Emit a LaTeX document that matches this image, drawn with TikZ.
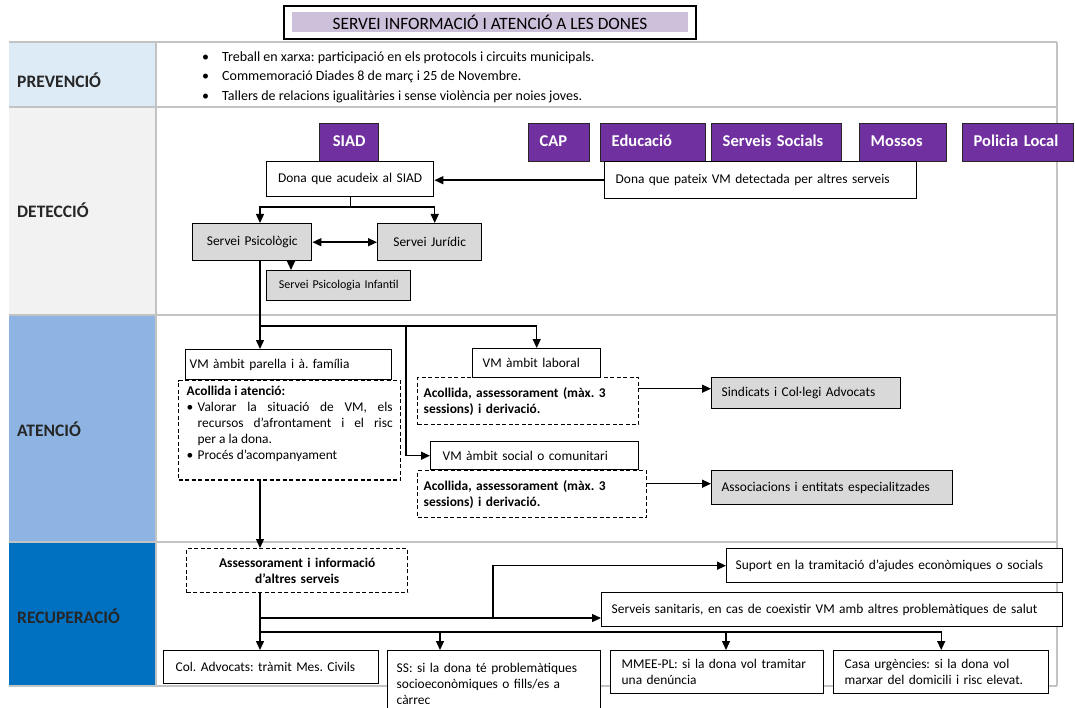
\documentclass[tikz,border=0pt]{standalone}
\usepackage{fontspec}
\setmainfont{Carlito}
\usetikzlibrary{arrows.meta}
\definecolor{prevblue}{RGB}{221,235,247}
\definecolor{detgray}{RGB}{242,242,242}
\definecolor{atenblue}{RGB}{141,180,226}
\definecolor{recblue}{RGB}{0,112,192}
\definecolor{agencyviolet}{RGB}{112,48,160}
\definecolor{boxgray}{RGB}{217,217,217}
\definecolor{titlelilac}{RGB}{204,192,218}
\definecolor{rulegray}{RGB}{195,195,195}
\newcommand{\bodysize}{\fontsize{13.4}{16}\selectfont}
\newcommand{\prevsize}{\fontsize{14}{17}\selectfont}
\newcommand{\smallsize}{\fontsize{12}{14}\selectfont}
\newcommand{\labelsize}{\fontsize{17.5}{20}\selectfont}
\newcommand{\agencysize}{\fontsize{16.5}{19}\selectfont}
\newcommand{\titlesize}{\fontsize{17.3}{20}\selectfont}
\frenchspacing
\hyphenpenalty=10000
\exhyphenpenalty=10000

\begin{document}
\begin{tikzpicture}[x=1pt,y=-1pt,
    rowrule/.style={draw=rulegray,line width=1.3pt},
    rowlabel/.style={anchor=base west,inner sep=0pt,font=\labelsize\bfseries,text=black!85},
    prevline/.style={anchor=west,inner sep=0pt,font=\prevsize},
    agency/.style={anchor=north west,draw=black!85,line width=1.4pt,fill=agencyviolet,text=white,
        font=\agencysize\bfseries,inner xsep=11pt,inner ysep=0pt,minimum height=38pt,align=left,
        text height=12pt,text depth=3.5pt},
    whitebox/.style={anchor=north west,draw=black,line width=1.4pt,fill=white,font=\bodysize,
        inner ysep=0pt,align=left},
    greybox/.style={whitebox,fill=boxgray},
    dashbox/.style={anchor=north west,draw=black,line width=1.4pt,dash pattern=on 4pt off 2.5pt,
        font=\bodysize\bfseries,inner ysep=0pt},
    link/.style={line width=1.4pt,-{Triangle[length=9pt,width=8pt]}},
    twolink/.style={line width=1.4pt,{Triangle[length=9pt,width=8pt]}-{Triangle[length=9pt,width=8pt]}},
    wire/.style={line width=1.4pt}]
\clip (0,0) rectangle (1075,708);

% table of the four phases
\fill[prevblue] (9,42) rectangle (156,107);
\fill[detgray] (9,107) rectangle (156,315);
\fill[atenblue] (9,315) rectangle (156,542);
\fill[recblue] (9,542) rectangle (156,686);
\draw[rowrule] (9,42) -- (1057,42);
\draw[rowrule] (9,107) -- (1057,107);
\draw[rowrule] (9,315) -- (1057,315);
\draw[rowrule] (9,542) -- (1057,542);
\draw[rowrule] (9,686) -- (1057,686);
\draw[rowrule] (156,42) -- (156,686);
\draw[rowrule] (1057,42) -- (1057,686);

\node[rowlabel] (lprev) at (17,88) {PREVENCIÓ};
\node[rowlabel] (ldet) at (17,218) {DETECCIÓ};
\node[rowlabel] (laten) at (17,436) {ATENCIÓ};
\node[rowlabel] (lrec) at (17,623) {RECUPERACIÓ};

% title
\node[draw=black,line width=1.6pt,minimum width=412pt,minimum height=33pt,inner sep=0pt] (titleframe) at (490,22.5) {};
\node[fill=titlelilac,minimum width=396pt,minimum height=20pt,inner sep=0pt,font=\titlesize] (title) at (titleframe.center) {SERVEI INFORMACIÓ I ATENCIÓ A LES DONES};

% prevencio
\node[prevline] (prev1) at (202,58) {\makebox[20pt][l]{\textbullet}Treball en xarxa: participació en els protocols i circuits municipals.};
\node[prevline] (prev2) at (202,77) {\makebox[20pt][l]{\textbullet}Commemoració Diades 8 de març i 25 de Novembre.};
\node[prevline] (prev3) at (202,97) {\makebox[20pt][l]{\textbullet}Tallers de relacions igualitàries i sense violència per noies joves.};

% deteccio
\node[agency,text width=37pt,align=center] (siad) at (319,123) {SIAD};
\node[agency,text width=39pt] (cap) at (528,123) {CAP};
\node[agency,text width=83pt] (educacio) at (600,123) {Educació};
\node[agency,text width=108pt] (socials) at (711,123) {Serveis Socials};
\node[agency,text width=65pt] (mossos) at (859,123) {Mossos};
\node[agency,text width=89pt] (policia) at (962,123) {Policia Local};
\node[whitebox,text width=155pt,inner xsep=6pt,minimum height=35pt,align=center] (acudeix) at (266,161) {Dona que acudeix al SIAD};
\node[whitebox,text width=290pt,inner xsep=11pt,minimum height=37pt] (pateix) at (604,161) {Dona que pateix VM detectada per altres serveis};
\node[greybox,text width=107pt,inner xsep=6pt,minimum height=37pt,align=center] (psic) at (192,223) {Servei Psicològic};
\node[greybox,text width=92pt,inner xsep=6pt,minimum height=37pt,align=center] (juridic) at (377,223) {Servei Jurídic};
\node[greybox,text width=134pt,inner xsep=5pt,minimum height=30pt,align=center,font=\smallsize] (infantil) at (266,270) {Servei Psicologia Infantil};

% atencio
\node[whitebox,text width=198pt,inner xsep=4pt,minimum height=30pt] (parella) at (185,349) {VM àmbit parella i à. família};
\node[dashbox,font=\bodysize,text width=206pt,inner xsep=8pt,inner ysep=5pt,align=justify] (parelladash) at (178,380) {\parindent=0pt
    {\bfseries Acollida i atenció:}\par
    \hangindent=11pt\hangafter=1\makebox[11pt][l]{\textbullet}Valorar la situació de VM, els\linebreak recursos d’afrontament i el risc\linebreak per a la dona.\par
    \makebox[11pt][l]{\textbullet}Procés d’acompanyament\par\rule{0pt}{10pt}};
\node[whitebox,text width=108pt,inner xsep=10pt,minimum height=29pt] (laboral) at (472,348) {VM àmbit laboral};
\node[dashbox,text width=209pt,inner xsep=6pt,minimum height=47pt,align=left] (laboraldash) at (417,377) {Acollida, assessorament (màx. 3\\sessions) i derivació.};
\node[whitebox,text width=184pt,inner xsep=12pt,minimum height=28pt] (social) at (430,441) {VM àmbit social o comunitari};
\node[dashbox,text width=217pt,inner xsep=6pt,minimum height=47pt,align=left] (socialdash) at (417,470) {Acollida, assessorament (màx. 3\\sessions) i derivació.};
\node[greybox,text width=169pt,inner xsep=10pt,minimum height=31pt] (sindicats) at (711,377) {Sindicats i Col·legi Advocats};
\node[greybox,text width=221pt,inner xsep=10pt,minimum height=34pt] (associacions) at (711,470) {Associacions i entitats especialitzades};

% recuperacio
\node[dashbox,text width=209pt,inner xsep=6pt,minimum height=44pt,align=center] (assess) at (186,548) {Assessorament i informació\\d’altres serveis};
\node[whitebox,text width=318pt,inner xsep=9pt,minimum height=34pt] (suport) at (726,548) {Suport en la tramitació d’ajudes econòmiques o socials};
\node[whitebox,text width=441pt,inner xsep=10pt,minimum height=34pt] (sanitaris) at (601,592) {Serveis sanitaris, en cas de coexistir VM amb altres problemàtiques de salut};
\node[whitebox,text width=191pt,inner xsep=12pt,minimum height=33pt] (coladv) at (163,650) {Col. Advocats: tràmit Mes. Civils};
\node[whitebox,text width=195pt,inner xsep=9pt,minimum height=66pt] (ss) at (387,650) {SS: si la dona té problemàtiques\\socioeconòmiques o fills/es a\\càrrec};
\node[whitebox,text width=191pt,inner xsep=11pt,minimum height=43pt] (mmee) at (610,650) {MMEE-PL: si la dona vol tramitar\\una denúncia};
\node[whitebox,text width=193pt,inner xsep=11pt,minimum height=43pt] (casa) at (833,650) {Casa urgències: si la dona vol\\marxar del domicili i risc elevat.};

% connectors
\coordinate (spine) at (260,0);
\coordinate (detsplit) at (0,207);
\coordinate (infdrop) at (291,0);
\coordinate (atsplit) at (260,326);
\coordinate (socialbranch) at (406,326);
\coordinate (sindin) at ([yshift=4.5pt]sindicats.west);
\coordinate (associn) at ([yshift=4pt]associacions.west);
\coordinate (recA) at (260,618);
\coordinate (recB) at (260,632);
\coordinate (suportbranch) at (493,618);
\coordinate (ssdrop) at (440,632);
\coordinate (mmeedrop) at (726,632);

\draw[wire] (acudeix.south) -- (acudeix.south |- detsplit);
\draw[link] (acudeix.south |- detsplit) -| (psic.north -| spine);
\draw[link] (acudeix.south |- detsplit) -| ([xshift=5pt]juridic.north);
\draw[link] (pateix.west) -- (pateix.west -| acudeix.east);
\draw[twolink] (psic.east) -- (juridic.west);
\draw[link] (psic.south -| infdrop) -- (infantil.north -| infdrop);
\draw[wire] (psic.south -| spine) -- (atsplit);
\draw[link] (atsplit) -- (parella.north -| spine);
\draw[link] (atsplit) -| (laboral.north);
\draw[link] (socialbranch) |- (social.west);
\draw[link] (sindin -| laboraldash.east) -- (sindin);
\draw[link] (associn -| socialdash.east) -- (associn);
\draw[link] (parelladash.south -| spine) -- (assess.north -| spine);
\draw[link] (assess.south -| spine) -- (coladv.north -| spine);
\draw[link] (recA) -- (recA -| sanitaris.west);
\draw[link] (suportbranch) |- (suport.west);
\draw[link] (recB) -| (casa.north);
\draw[link] (ssdrop) -- (ss.north -| ssdrop);
\draw[link] (mmeedrop) -- (mmee.north -| mmeedrop);
\end{tikzpicture}
\end{document}
